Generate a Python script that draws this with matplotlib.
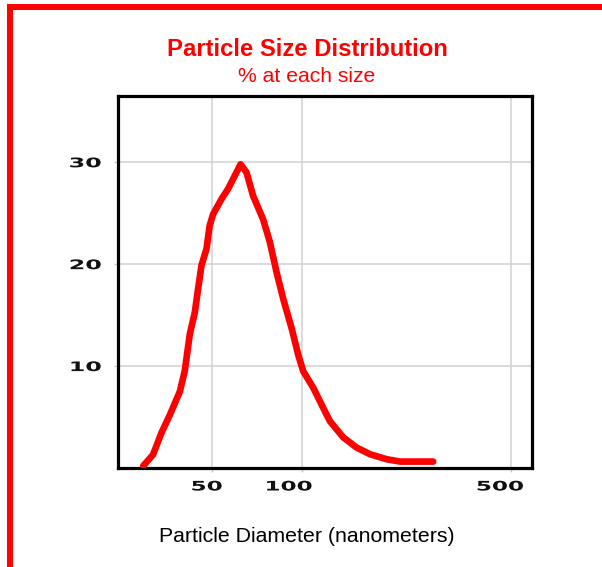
import matplotlib
matplotlib.use("Agg")
import matplotlib.pyplot as plt
from matplotlib.lines import Line2D
from matplotlib.ticker import FixedLocator, NullLocator
from matplotlib.patheffects import AbstractPathEffect
from matplotlib.transforms import Affine2D

diameter_nm = [29.5, 31.8, 34.0, 36.2, 39.1, 40.6, 42.2, 43.9, 45.0, 46.2, 48.0, 49.2,
               50.5, 53.9, 56.7, 62.4, 65.3, 68.7, 74.2, 78.1, 82.3, 86.6, 92.4, 97.2,
               101, 109, 117.8, 124, 137.5, 152.4, 168.9, 192, 212.7, 274.6]
percent = [0.2, 1.3, 3.5, 5.2, 7.5, 9.5, 13.1, 15.3, 17.6, 19.9, 21.5, 23.8,
           24.9, 26.4, 27.4, 29.8, 29.0, 26.7, 24.4, 22.2, 19.2, 16.6, 13.7, 11.1,
           9.5, 7.9, 5.9, 4.6, 3.0, 2.0, 1.35, 0.86, 0.63, 0.63]
x_ticks = [50, 100, 500]
x_tick_labels = ["50", "100", "500"]
y_ticks = [10, 20, 30]
y_tick_labels = ["10", "20", "30"]

title = "Particle Size Distribution"
subtitle = "% at each size"
xlabel = "Particle Diameter (nanometers)"


class HStretch(AbstractPathEffect):
    """Draw text glyphs stretched horizontally (wide, extended look)."""

    def __init__(self, sx, anchor="center", dx=0.0):
        super().__init__(offset=(0, 0))
        self.sx = sx
        self.anchor = anchor
        self.dx = dx

    def draw_path(self, renderer, gc, tpath, affine, rgbFace=None):
        ext = tpath.get_extents(affine)
        if self.anchor == "right":
            cx = ext.x1
        elif self.anchor == "left":
            cx = ext.x0
        else:
            cx = 0.5 * (ext.x0 + ext.x1)
        t = affine + Affine2D().translate(-cx, 0).scale(self.sx, 1).translate(cx + self.dx, 0)
        renderer.draw_path(gc, tpath, t, rgbFace)


W, H = 602, 567
fig = plt.figure(figsize=(W / 100, H / 100), dpi=100)
fig.patch.set_facecolor("white")


def fx(px):
    return px / W


def fy(py):
    return 1 - py / H


ax = fig.add_axes([fx(118), fy(468), fx(532) - fx(118), fy(96) - fy(468)])
ax.set_xscale("log")
ax.plot(diameter_nm, percent, color="#ff0000", lw=4.8, solid_capstyle="round",
        solid_joinstyle="round", zorder=3)
ax.set_xlim(24.3, 587)
ax.set_ylim(0, 36.5)

ax.xaxis.set_major_locator(FixedLocator(x_ticks))
ax.xaxis.set_minor_locator(NullLocator())
ax.set_xticklabels(x_tick_labels)
ax.set_yticks(y_ticks)
ax.set_yticklabels(y_tick_labels)
ax.grid(True, color="#d4d4d4", lw=1.2, zorder=0)
ax.tick_params(axis="both", which="major", length=3, width=1, color="#c8c8c8",
               labelsize=9.5, labelcolor="#111111")
ax.tick_params(axis="y", pad=9)
ax.tick_params(axis="x", pad=6)
x_shift = [-5, -13, -11]
for lab, dx in zip(ax.get_xticklabels(), x_shift):
    lab.set_fontweight("bold")
    lab.set_family("DejaVu Sans")
    lab.set_path_effects([HStretch(1.75, "center", dx)])
for lab in ax.get_yticklabels():
    lab.set_fontweight("bold")
    lab.set_family("DejaVu Sans")
    lab.set_path_effects([HStretch(1.8, "right", 0)])
for s in ax.spines.values():
    s.set_linewidth(2.3)
    s.set_color("black")

fig.text(fx(307), fy(49), title, color="#ff0000", fontsize=17.2, fontweight="bold",
         family="Liberation Sans", ha="center", va="center")
fig.text(fx(307), fy(76), subtitle, color="#ff0000", fontsize=15.2,
         family="Liberation Sans", ha="center", va="center")
fig.text(fx(307), fy(536), xlabel, color="black", fontsize=15.3,
         family="Liberation Sans", ha="center", va="center")

# red frame (top and left edges)
fig.add_artist(Line2D([fx(7), fx(602)], [fy(7), fy(7)], color="#ff0000", lw=4.3,
                      transform=fig.transFigure, solid_capstyle="butt"))
fig.add_artist(Line2D([fx(10), fx(10)], [fy(4.5), fy(567)], color="#ff0000", lw=4.3,
                      transform=fig.transFigure, solid_capstyle="butt"))

fig.savefig("out.png", dpi=100)
